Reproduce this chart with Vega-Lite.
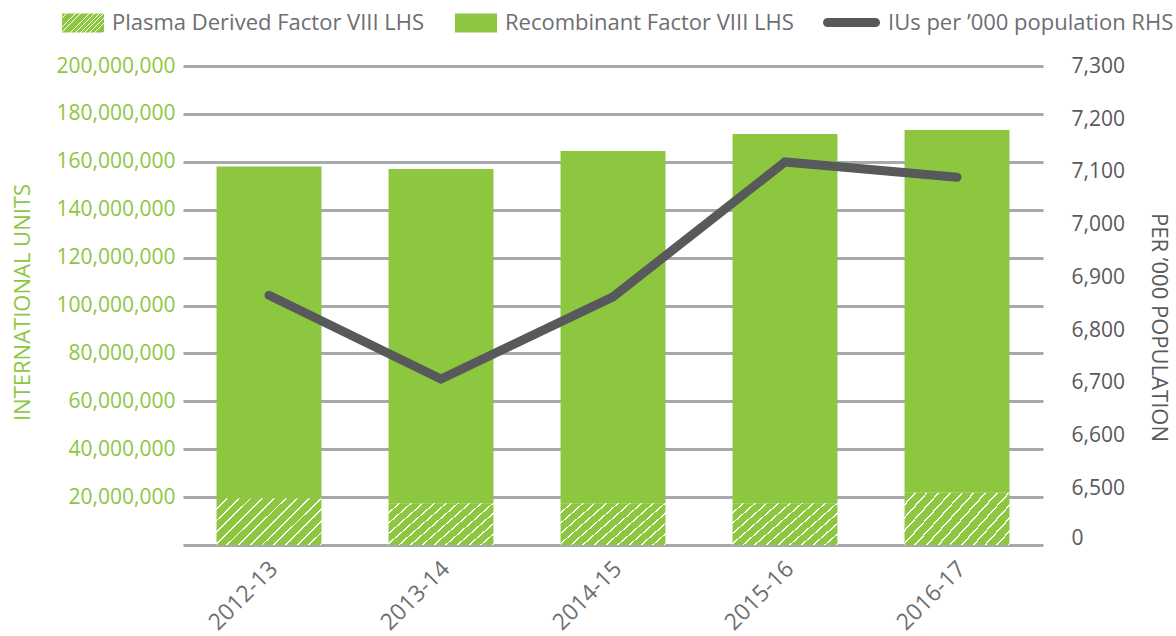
{
  "$schema": "https://vega.github.io/schema/vega-lite/v6.json",
  "width": 860,
  "height": 479,
  "autosize": {"type": "none"},
  "padding": {"left": 183, "top": 66, "right": 133, "bottom": 91},
  "background": "white",
  "config": {
    "font": "Open Sans",
    "view": {"stroke": null},
    "legend": {"labelFontSize": 22, "labelColor": "#6d6e71", "labelOffset": 8, "labelLimit": 0, "title": null, "orient": "none", "symbolSize": 1764, "labelFont": "Open Sans"}
  },
  "datasets": {
    "bars": [
      {"year": "2012-13", "series": "Plasma Derived Factor VIII LHS", "value": 19500000},
      {"year": "2012-13", "series": "Recombinant Factor VIII LHS", "value": 138500000},
      {"year": "2013-14", "series": "Plasma Derived Factor VIII LHS", "value": 17400000},
      {"year": "2013-14", "series": "Recombinant Factor VIII LHS", "value": 139600000},
      {"year": "2014-15", "series": "Plasma Derived Factor VIII LHS", "value": 17400000},
      {"year": "2014-15", "series": "Recombinant Factor VIII LHS", "value": 147100000},
      {"year": "2015-16", "series": "Plasma Derived Factor VIII LHS", "value": 17400000},
      {"year": "2015-16", "series": "Recombinant Factor VIII LHS", "value": 154200000},
      {"year": "2016-17", "series": "Plasma Derived Factor VIII LHS", "value": 21800000},
      {"year": "2016-17", "series": "Recombinant Factor VIII LHS", "value": 151500000}
    ],
    "line": [
      {"year": "2012-13", "series": "IUs per ’000 population RHS", "value": 6866},
      {"year": "2013-14", "series": "IUs per ’000 population RHS", "value": 6707},
      {"year": "2014-15", "series": "IUs per ’000 population RHS", "value": 6863},
      {"year": "2015-16", "series": "IUs per ’000 population RHS", "value": 7119},
      {"year": "2016-17", "series": "IUs per ’000 population RHS", "value": 7090}
    ]
  },
  "layer": [
    {
      "data": {"name": "bars"},
      "transform": [
        {"stack": "value", "groupby": ["year"], "sort": [{"field": "series", "order": "ascending"}], "as": ["v0", "v1"]},
        {"filter": "datum.series === 'Plasma Derived Factor VIII LHS'"}
      ],
      "mark": {
        "type": "bar",
        "strokeWidth": 0,
        "color": {
          "gradient": "linear", "x1": 0, "y1": 0, "x2": 1.206, "y2": 0.543,
          "stops": [
            {"offset": 0, "color": "#8dc63f"}, {"offset": 0.0646, "color": "#8dc63f"}, {"offset": 0.0646, "color": "#ffffff"}, {"offset": 0.0769, "color": "#ffffff"},
            {"offset": 0.0769, "color": "#8dc63f"}, {"offset": 0.1415, "color": "#8dc63f"}, {"offset": 0.1415, "color": "#ffffff"}, {"offset": 0.1538, "color": "#ffffff"},
            {"offset": 0.1538, "color": "#8dc63f"}, {"offset": 0.2185, "color": "#8dc63f"}, {"offset": 0.2185, "color": "#ffffff"}, {"offset": 0.2308, "color": "#ffffff"},
            {"offset": 0.2308, "color": "#8dc63f"}, {"offset": 0.2954, "color": "#8dc63f"}, {"offset": 0.2954, "color": "#ffffff"}, {"offset": 0.3077, "color": "#ffffff"},
            {"offset": 0.3077, "color": "#8dc63f"}, {"offset": 0.3723, "color": "#8dc63f"}, {"offset": 0.3723, "color": "#ffffff"}, {"offset": 0.3846, "color": "#ffffff"},
            {"offset": 0.3846, "color": "#8dc63f"}, {"offset": 0.4492, "color": "#8dc63f"}, {"offset": 0.4492, "color": "#ffffff"}, {"offset": 0.4615, "color": "#ffffff"},
            {"offset": 0.4615, "color": "#8dc63f"}, {"offset": 0.5262, "color": "#8dc63f"}, {"offset": 0.5262, "color": "#ffffff"}, {"offset": 0.5385, "color": "#ffffff"},
            {"offset": 0.5385, "color": "#8dc63f"}, {"offset": 0.6031, "color": "#8dc63f"}, {"offset": 0.6031, "color": "#ffffff"}, {"offset": 0.6154, "color": "#ffffff"},
            {"offset": 0.6154, "color": "#8dc63f"}, {"offset": 0.68, "color": "#8dc63f"}, {"offset": 0.68, "color": "#ffffff"}, {"offset": 0.6923, "color": "#ffffff"},
            {"offset": 0.6923, "color": "#8dc63f"}, {"offset": 0.7569, "color": "#8dc63f"}, {"offset": 0.7569, "color": "#ffffff"}, {"offset": 0.7692, "color": "#ffffff"},
            {"offset": 0.7692, "color": "#8dc63f"}, {"offset": 0.8338, "color": "#8dc63f"}, {"offset": 0.8338, "color": "#ffffff"}, {"offset": 0.8462, "color": "#ffffff"},
            {"offset": 0.8462, "color": "#8dc63f"}, {"offset": 0.9108, "color": "#8dc63f"}, {"offset": 0.9108, "color": "#ffffff"}, {"offset": 0.9231, "color": "#ffffff"},
            {"offset": 0.9231, "color": "#8dc63f"}, {"offset": 0.9877, "color": "#8dc63f"}, {"offset": 0.9877, "color": "#ffffff"}, {"offset": 1, "color": "#ffffff"}
          ]
        }
      },
      "encoding": {
        "x": {
          "field": "year", "type": "nominal", "sort": null,
          "scale": {"paddingInner": 0.39, "paddingOuter": 0.195},
          "axis": {
            "title": null, "labelAngle": -45, "labelFontSize": 23, "labelColor": "#6d6e71",
            "labelAlign": "right", "labelBaseline": "middle", "labelPadding": 20, "labelOffset": 5,
            "ticks": false, "domain": true, "domainColor": "#a7a9ac", "domainWidth": 3, "grid": false
          }
        },
        "y": {
          "field": "v0", "type": "quantitative",
          "scale": {"domain": [0, 200000000], "nice": false},
          "axis": {
            "values": [20000000, 40000000, 60000000, 80000000, 100000000, 120000000, 140000000, 160000000, 180000000, 200000000],
            "labelExpr": "format(datum.value, ',')", "labelColor": "#8dc63f", "labelFontSize": 21, "labelPadding": 8,
            "ticks": false, "domain": false, "grid": true, "gridColor": "#a7a9ac", "gridWidth": 3,
            "title": "INTERNATIONAL UNITS", "titleColor": "#8dc63f", "titleFontSize": 22, "titleFontWeight": "normal",
            "titleAngle": -90, "titleX": -161, "titleY": 236, "titleAlign": "center", "titleBaseline": "middle"
          }
        },
        "y2": {"field": "v1"},
        "stroke": {
          "field": "series", "type": "nominal",
          "scale": {"domain": ["Plasma Derived Factor VIII LHS"], "range": ["#8dc63f"]},
          "legend": {"legendX": -121, "legendY": -64, "symbolType": "M-1,-0.45H1V0.45H-1Z", "symbolStrokeWidth": 0}
        }
      }
    },
    {
      "data": {"name": "bars"},
      "transform": [
        {"stack": "value", "groupby": ["year"], "sort": [{"field": "series", "order": "ascending"}], "as": ["v0", "v1"]},
        {"filter": "datum.series === 'Recombinant Factor VIII LHS'"}
      ],
      "mark": {"type": "bar"},
      "encoding": {
        "x": {"field": "year", "type": "nominal", "sort": null},
        "y": {"field": "v0", "type": "quantitative", "scale": {"domain": [0, 200000000], "nice": false}, "axis": null},
        "y2": {"field": "v1"},
        "fill": {
          "field": "series", "type": "nominal",
          "scale": {"domain": ["Recombinant Factor VIII LHS"], "range": ["#8dc63f"]},
          "legend": {"legendX": 272, "legendY": -64, "symbolType": "M-1,-0.45H1V0.45H-1Z", "symbolStrokeWidth": 0}
        }
      }
    },
    {
      "data": {"name": "line"},
      "mark": {"type": "line", "strokeWidth": 9, "strokeCap": "round", "strokeJoin": "miter"},
      "encoding": {
        "x": {"field": "year", "type": "nominal", "sort": null},
        "y": {
          "field": "value", "type": "quantitative",
          "scale": {"domain": [6392, 7301], "nice": false, "zero": false},
          "axis": {
            "orient": "right",
            "values": [6405, 6500, 6600, 6700, 6800, 6900, 7000, 7100, 7200, 7300],
            "labelExpr": "datum.value < 6450 ? '0' : format(datum.value, ',')",
            "labelColor": "#58595b", "labelFontSize": 21, "labelPadding": 28,
            "ticks": false, "domain": false, "grid": false,
            "title": "PER ’000 POPULATION", "titleColor": "#58595b", "titleFontSize": 22, "titleFontWeight": "normal",
            "titleAngle": 90, "titleX": 115, "titleY": 261, "titleAlign": "center", "titleBaseline": "middle"
          }
        },
        "color": {
          "field": "series", "type": "nominal",
          "scale": {"domain": ["IUs per ’000 population RHS"], "range": ["#58595b"]},
          "legend": {
            "legendX": 640, "legendY": -72, "symbolSize": 3249,
            "symbolType": "M-0.84,-0.16H0.84A0.16,0.16 0 0 1 0.84,0.16H-0.84A0.16,0.16 0 0 1 -0.84,-0.16Z",
            "symbolFillColor": "#58595b", "symbolStrokeWidth": 0
          }
        }
      }
    }
  ],
  "resolve": {"scale": {"y": "independent"}}
}
